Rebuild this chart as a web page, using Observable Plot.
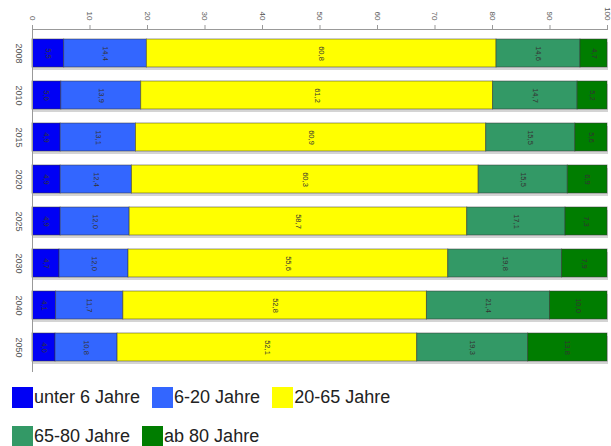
<!DOCTYPE html>
<html>
<head>
<meta charset="utf-8">
<script src="https://cdn.jsdelivr.net/npm/d3@7"></script>
<script src="https://cdn.jsdelivr.net/npm/@observablehq/plot@0.6"></script>
<style>
  body { margin: 0; background: #fff; }
  #chart svg { display: block; }
  .legend { font-family: "Liberation Sans Narrow", "Liberation Sans", sans-serif; font-size: 18px; color: #222; padding-left: 12px; }
  .row { display: flex; align-items: center; height: 39px; }
  .item { display: flex; align-items: center; margin-right: 12px; }
  .sw { width: 21px; height: 21px; margin-right: 1px; }
</style>
</head>
<body>
<div id="chart"></div>
<div class="legend" id="legend"></div>
<script>
const years = ["2008","2010","2015","2020","2025","2030","2040","2050"];
const groups = ["unter 6 Jahre","6-20 Jahre","20-65 Jahre","65-80 Jahre","ab 80 Jahre"];
const colors = ["#0000f5","#3366ff","#ffff00","#339966","#007d00"];
const unter6 = [5.5, 5.0, 4.9, 4.9, 4.9, 4.7, 4.1, 4.0];
const j6_20  = [14.4, 13.9, 13.1, 12.4, 12.0, 12.0, 11.7, 10.8];
const j20_65 = [60.8, 61.2, 60.9, 60.3, 58.7, 55.6, 52.8, 52.1];
const j65_80 = [14.6, 14.7, 15.5, 15.5, 17.1, 19.8, 21.4, 19.3];
const ab80   = [4.7, 5.2, 5.6, 6.9, 7.3, 7.9, 10.0, 13.8];
const xTicks = [0,10,20,30,40,50,60,70,80,90,100];

const series = [unter6, j6_20, j20_65, j65_80, ab80];
const data = [];
years.forEach((y, i) => groups.forEach((g, k) => data.push({year: y, group: g, value: series[k][i]})));
const totals = years.map((y, i) => ({year: y, value: series.reduce((s, a) => s + a[i], 0)}));

const fmt = v => v.toFixed(1).replace(".", ",");

const chart = Plot.plot({
  width: 611,
  height: 378,
  marginTop: 29,
  marginLeft: 32,
  marginRight: 4,
  marginBottom: 7,
  style: {fontFamily: "Liberation Sans, Arial, sans-serif", background: "#fff"},
  x: {domain: [0, 100], ticks: xTicks, axis: null, label: null},
  y: {domain: years, paddingInner: 0.33, paddingOuter: 0.15, axis: null, label: null},
  color: {domain: groups, range: colors},
  marks: [
    Plot.barX(totals, {y: "year", x1: 0, x2: "value", fill: "#d4d4d4", dx: 1, dy: 3}),
    Plot.barX(data, Plot.stackX({y: "year", x: "value", fill: "group", order: groups, stroke: "#333", strokeOpacity: 0.5, strokeWidth: 1})),
    Plot.text(data, Plot.stackX({y: "year", x: "value", z: "group", order: groups, text: d => fmt(d.value), rotate: 90, fontSize: 7.5, fill: "#333"})),
    Plot.frame({anchor: "top", stroke: "#999"}),
    Plot.frame({anchor: "left", stroke: "#999"}),
    Plot.axisX({anchor: "top", ticks: xTicks, label: null, tickRotate: 90, tickSize: 5, tickPadding: 4, fontSize: 8, color: "#555", stroke: "#999", textAnchor: "end"}),
    Plot.axisY({anchor: "left", label: null, tickSize: 0, tickPadding: 10, tickRotate: 90, fontSize: 9, color: "#555", textAnchor: "middle"})
  ]
});
document.getElementById("chart").appendChild(chart);

const legend = document.getElementById("legend");
[[0,1,2],[3,4]].forEach(idx => {
  const row = document.createElement("div");
  row.className = "row";
  idx.forEach(k => {
    const it = document.createElement("div");
    it.className = "item";
    const sw = document.createElement("div");
    sw.className = "sw";
    sw.style.background = colors[k];
    const t = document.createElement("span");
    t.textContent = groups[k];
    it.appendChild(sw); it.appendChild(t);
    row.appendChild(it);
  });
  legend.appendChild(row);
});
</script>
</body>
</html>
